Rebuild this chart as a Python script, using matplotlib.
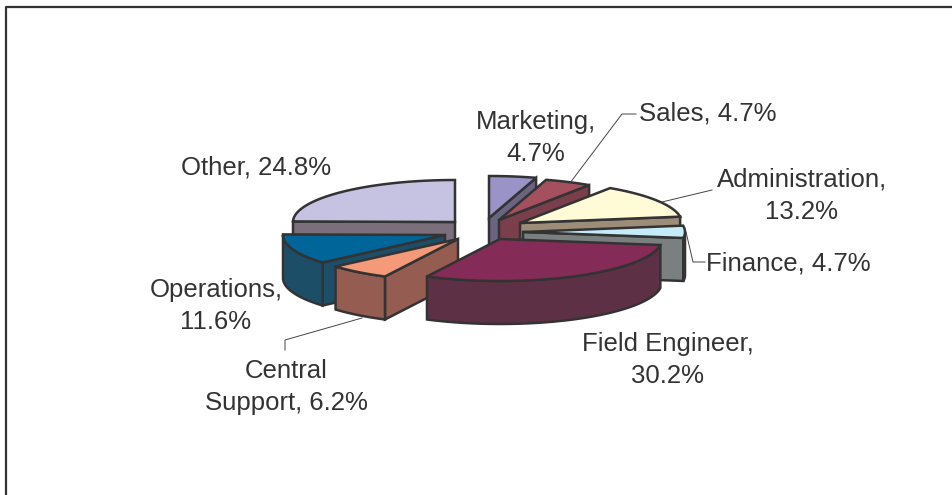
import matplotlib
matplotlib.use("Agg")
import matplotlib.pyplot as plt
import numpy as np

names = ["Marketing", "Sales", "Administration", "Finance", "Field Engineer",
         "Central Support", "Operations", "Other"]
values = [4.7, 4.7, 13.2, 4.7, 30.2, 6.2, 11.6, 24.8]
top_colors = ["#9A93C8", "#A5505F", "#FFFBD6", "#C5EAF8", "#842B57", "#F59A78", "#006699", "#C6C3E2"]
side_colors = ["#6B6480", "#7A3F4A", "#9C8C78", "#7A8080", "#5E3045", "#955C52", "#1D4E68", "#7B6F7B"]
# where each exploded slice ends up on the canvas
apex_x = [489, 499, 520, 523, 500, 458, 445, 455]
apex_y = [218, 220, 223, 232, 239, 239, 235, 222]
draw_order = [7, 0, 1, 2, 3, 6, 5, 4]

rx = 162
ry = 42
depth = 43
edge = "#333333"
lw = 1.8

plt.rcParams['font.family'] = ['Liberation Sans', 'DejaVu Sans']
fig = plt.figure(figsize=(9.53, 4.95), dpi=100)
ax = fig.add_axes([0, 0, 1, 1])
ax.set_xlim(0, 953)
ax.set_ylim(495, 0)
ax.axis("off")

# outer frame, only left and top are inside the picture
ax.plot([6.3, 6.3, 960], [500, 7, 7], color="#333333", lw=1.6)


def arc(cx, cy, a, b):
    t = np.radians(np.linspace(a, b, 60))
    return cx + rx * np.sin(t), cy - ry * np.cos(t)


def face(xs, ys, color):
    ax.fill(xs, ys, facecolor=color, edgecolor=edge, lw=lw, joinstyle="miter")


total = sum(values)
ends = np.cumsum(values) / total * 360
starts = np.r_[0, ends[:-1]]

for i in draw_order:
    a, b = starts[i], ends[i]
    cx, cy = apex_x[i], apex_y[i]
    xa, ya = arc(cx, cy, a, a + 1e-6)
    xb, yb = arc(cx, cy, b, b + 1e-6)
    # cut faces
    if np.sin(np.radians(b)) > 0:
        face([cx, xb[0], xb[0], cx], [cy, yb[0], yb[0] + depth, cy + depth], side_colors[i])
    if np.sin(np.radians(a)) < 0:
        face([cx, xa[0], xa[0], cx], [cy, ya[0], ya[0] + depth, cy + depth], side_colors[i])
    # rim, only the part facing us
    lo, hi = max(a, 90), min(b, 270)
    if hi > lo:
        xr, yr = arc(cx, cy, lo, hi)
        face(np.r_[xr, xr[::-1]], np.r_[yr, yr[::-1] + depth], side_colors[i])
    xt, yt = arc(cx, cy, a, b)
    face(np.r_[cx, xt], np.r_[cy, yt], top_colors[i])

# leader lines
lead = "#444444"
ax.plot([570, 622, 636], [183, 114, 114], color=lead, lw=0.7)
ax.plot([662, 712], [202, 190], color=lead, lw=0.7)
ax.plot([686, 693, 705], [232, 262, 262], color=lead, lw=0.7)
ax.plot([362, 285, 285], [318, 340, 350], color=lead, lw=0.7)

labels = [
    (536, 138, "Marketing,\n4.7%"),
    (708, 114, "Sales, 4.7%"),
    (802, 196, "Administration,\n13.2%"),
    (788, 263, "Finance, 4.7%"),
    (668, 360, "Field Engineer,\n30.2%"),
    (286, 387, "Central\nSupport, 6.2%"),
    (216, 306, "Operations,\n11.6%"),
    (256, 168, "Other, 24.8%"),
]
for x, y, s in labels:
    ax.text(x, y, s, ha="center", va="center", fontsize=18.5, color="#333333", linespacing=1.47)

fig.savefig("out.png", dpi=100)
